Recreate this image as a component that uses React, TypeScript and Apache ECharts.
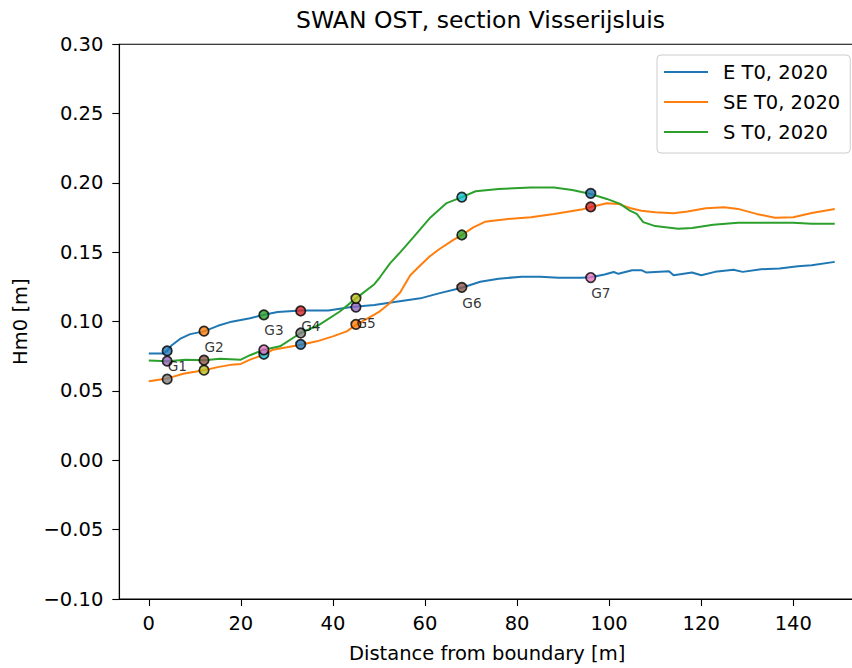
import React, { useEffect, useRef } from "react";
import * as echarts from "echarts";

const FONT = "DejaVu Sans";

const titleText = "SWAN OST, section Visserijsluis";
const xAxisTitle = "Distance from boundary [m]";
const yAxisTitle = "Hm0 [m]";
const seriesNames = ["E T0, 2020", "SE T0, 2020", "S T0, 2020"];
const lineColors = ["#1f77b4", "#ff7f0e", "#2ca02c"];
const xTicks = [0, 20, 40, 60, 80, 100, 120, 140];

const eX = [0, 3, 4, 5, 7, 9, 12, 15, 18, 22, 25, 28, 33, 39, 44, 49, 53, 59, 63, 68, 72, 76, 81, 85, 89, 94, 96, 99, 101, 102, 105, 107, 108, 113, 114, 118, 120, 123, 127, 129, 133, 137, 141, 144, 149];
const eY = [0.077, 0.077, 0.079, 0.083, 0.088, 0.091, 0.093, 0.097, 0.1, 0.1025, 0.105, 0.107, 0.108, 0.108, 0.1105, 0.112, 0.114, 0.1168, 0.1204, 0.1245, 0.1288, 0.131, 0.1324, 0.1324, 0.1317, 0.1317, 0.132, 0.134, 0.1358, 0.1345, 0.1371, 0.1371, 0.1355, 0.1364, 0.1335, 0.1355, 0.1335, 0.1359, 0.1374, 0.1359, 0.1378, 0.1383, 0.14, 0.1407, 0.1431];

const seX = [0, 4, 5, 7.5, 10, 12, 15, 18, 20, 22, 25, 27, 30, 33, 36.5, 40, 43, 45, 49, 50, 52.4, 54.6, 56.8, 59, 61, 63, 66, 68, 70.5, 73, 78, 83, 88, 94, 96, 99.5, 102, 104.5, 107, 110, 114, 117, 121, 125, 128, 132, 136, 140, 144, 149];
const seY = [0.057, 0.059, 0.06, 0.0624, 0.0638, 0.065, 0.0672, 0.069, 0.0695, 0.0726, 0.0762, 0.0798, 0.0815, 0.0834, 0.0858, 0.0894, 0.093, 0.0977, 0.105, 0.107, 0.1135, 0.121, 0.1335, 0.1407, 0.147, 0.152, 0.1586, 0.1625, 0.168, 0.172, 0.174, 0.1753, 0.1777, 0.1808, 0.1827, 0.1854, 0.1849, 0.182, 0.18, 0.1789, 0.1782, 0.1794, 0.1818, 0.1825, 0.1813, 0.1777, 0.1749, 0.1753, 0.1784, 0.1813];

const sX = [0, 4, 8, 12, 15.5, 20, 22, 25, 28.5, 33, 37, 41.5, 45, 49, 50.2, 52.4, 54.6, 57.5, 61, 64.7, 68, 71, 76, 83, 88, 92, 96, 99.5, 102.4, 104.5, 106, 107.4, 110, 115, 118, 122.6, 128, 134, 140, 144, 149];
const sY = [0.072, 0.0715, 0.0726, 0.0722, 0.0733, 0.0726, 0.0758, 0.0798, 0.0822, 0.0918, 0.0977, 0.1073, 0.1168, 0.127, 0.132, 0.142, 0.15, 0.161, 0.1745, 0.1855, 0.1898, 0.194, 0.1956, 0.1968, 0.1968, 0.195, 0.192, 0.1885, 0.1849, 0.18, 0.1777, 0.1718, 0.1689, 0.167, 0.1675, 0.1698, 0.1713, 0.1713, 0.1713, 0.1706, 0.1706];

const gaugeNames = ["G1", "G2", "G3", "G4", "G5", "G6", "G7"];
const gaugeX = [4, 12, 25, 33, 45, 68, 96];
const gaugeE = [0.0789, 0.0932, 0.1049, 0.1077, 0.1105, 0.1247, 0.1318];
const gaugeSE = [0.0585, 0.065, 0.0765, 0.0836, 0.098, 0.1625, 0.1828];
const gaugeS = [0.0716, 0.0722, 0.0797, 0.0918, 0.1168, 0.1898, 0.1925];
const markerCycle = ["#1f77b4", "#ff7f0e", "#2ca02c", "#d62728", "#9467bd", "#8c564b", "#e377c2", "#7f7f7f", "#bcbd22", "#17becf"];

const W = 880;
const H = 668;

export default function App() {
  const ref = useRef<HTMLDivElement>(null);
  useEffect(() => {
    if (!ref.current) return;
    const chart = echarts.init(ref.current, null, { renderer: "svg" });
    const pair = (xs: number[], ys: number[]) => xs.map((x, i) => [x, ys[i]]);
    const lineSeries = [pair(eX, eY), pair(seX, seY), pair(sX, sY)].map((d, i) => ({
      name: seriesNames[i],
      type: "line",
      data: d,
      symbol: "none",
      lineStyle: { color: lineColors[i], width: 2 },
      itemStyle: { color: lineColors[i] },
      z: 2,
    }));
    const markerGroups = [gaugeE, gaugeSE, gaugeS];
    let ci = 0;
    const markerSeries = markerGroups.map((ys, gi) => ({
      name: "markers" + gi,
      type: "scatter",
      symbol: "circle",
      symbolSize: 9.5,
      z: 3 + gi,
      data: ys.map((y, i) => {
        const c = markerCycle[(ci++) % markerCycle.length];
        return { value: [gaugeX[i], y], itemStyle: { color: c, borderColor: "#000", borderWidth: 1.7 } };
      }),
    }));
    const labelSeries = {
      name: "labels",
      type: "scatter",
      symbolSize: 1,
      itemStyle: { color: "transparent" },
      z: 6,
      silent: true,
      data: gaugeX.map((x, i) => ({ value: [x, gaugeE[i]], name: gaugeNames[i] })),
      label: {
        show: true,
        formatter: (p: any) => p.name,
        position: [1, 16],
        align: "left",
        verticalAlign: "middle",
        fontFamily: FONT,
        fontSize: 13.7,
        color: "#000",
      },
    };
    chart.setOption({
      animation: false,
      backgroundColor: "#fff",
      textStyle: { fontFamily: FONT },
      title: {
        text: titleText,
        left: 296,
        top: 8,
        padding: 0,
        textStyle: { fontFamily: FONT, fontSize: 23.5, fontWeight: "normal", color: "#000" },
      },
      legend: {
        data: seriesNames.map((n) => ({ name: n, icon: "rect" })),
        orient: "vertical",
        left: 657,
        top: 55,
        itemWidth: 44,
        itemHeight: 2,
        itemGap: 10,
        padding: [7, 10, 11, 7],
        backgroundColor: "rgba(255,255,255,0.8)",
        borderColor: "#cccccc",
        borderWidth: 1,
        borderRadius: 4,
        textStyle: { fontFamily: FONT, fontSize: 19.5, color: "#000", lineHeight: 20, padding: [0, 0, 0, 10] },
      },
      grid: {
        left: 119.3,
        top: 44.3,
        right: 25,
        bottom: H - 603.3,
        show: true,
        borderColor: "#000",
        borderWidth: 1.1,
        backgroundColor: "transparent",
      },
      xAxis: {
        type: "value",
        min: -6.4,
        max: 153.4,
        name: xAxisTitle,
        nameLocation: "middle",
        nameGap: 44,
        nameTextStyle: { fontFamily: FONT, fontSize: 19.5, color: "#000" },
        axisLine: { show: true, onZero: false, lineStyle: { color: "#000", width: 1.1 } },
        axisTick: { show: true, length: 7, lineStyle: { color: "#000", width: 1.1 }, customValues: xTicks },
        axisLabel: { fontFamily: FONT, fontSize: 19.5, color: "#000", margin: 14, customValues: xTicks, formatter: (v: number) => String(v) },
        splitLine: { show: false },
      },
      yAxis: {
        type: "value",
        min: -0.1,
        max: 0.3,
        interval: 0.05,
        name: yAxisTitle,
        nameLocation: "middle",
        nameGap: 89,
        nameTextStyle: { fontFamily: FONT, fontSize: 19.5, color: "#000" },
        axisLine: { show: true, onZero: false, lineStyle: { color: "#000", width: 1.1 } },
        axisTick: { show: true, length: 7, lineStyle: { color: "#000", width: 1.1 } },
        axisLabel: {
          fontFamily: FONT,
          fontSize: 19.5,
          color: "#000",
          margin: 16,
          formatter: (v: number) => (Math.abs(v) < 1e-9 ? "0.00" : (v < 0 ? "\u2212" : "") + Math.abs(v).toFixed(2)),
        },
        splitLine: { show: false },
      },
      series: [...lineSeries, ...markerSeries, labelSeries],
    });
    return () => chart.dispose();
  }, []);
  return (
    <div style={{ position: "absolute", left: 0, top: 0, width: 852, height: 668, overflow: "hidden", background: "#fff" }}>
      <div ref={ref} style={{ width: W, height: H }} />
    </div>
  );
}
